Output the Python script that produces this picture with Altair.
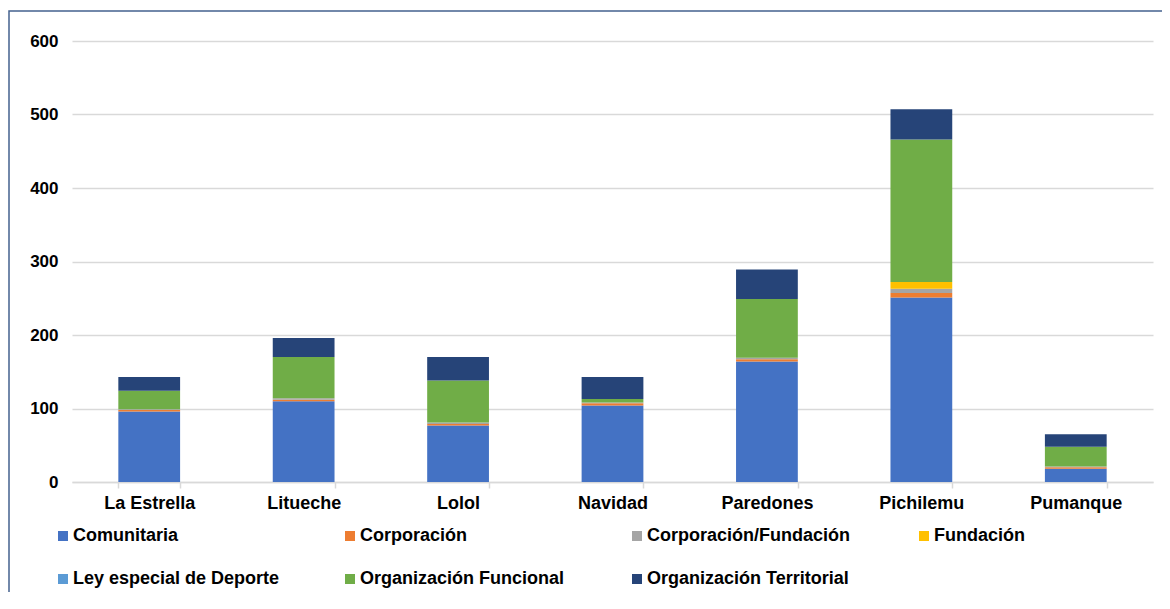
import altair as alt
import pandas as pd

categories = ["La Estrella", "Litueche", "Lolol", "Navidad", "Paredones", "Pichilemu", "Pumanque"]
series = ["Comunitaria", "Corporación", "Corporación/Fundación", "Fundación",
          "Ley especial de Deporte", "Organización Funcional", "Organización Territorial"]
colors = ["#4472C4", "#ED7D31", "#A5A5A5", "#FFC000", "#5B9BD5", "#70AD47", "#264478"]

comunitaria = [96, 110, 77, 104, 164, 251, 18]
corporacion = [2, 2, 2, 3, 3, 6, 2]
corp_fundacion = [1, 2, 2, 1, 2, 6, 1]
fundacion = [0, 0, 0, 0, 0, 9, 0]
ley_deporte = [0, 0, 0, 0, 0, 0, 0]
funcional = [25, 56, 57, 5, 80, 194, 27]
territorial = [19, 26, 32, 30, 40, 41, 17]

values = [comunitaria, corporacion, corp_fundacion, fundacion, ley_deporte, funcional, territorial]
rows = []
for si, (name, vals) in enumerate(zip(series, values)):
    for c, v in zip(categories, vals):
        rows.append({"Comuna": c, "Tipo": name, "Valor": v, "orden": si})
df = pd.DataFrame(rows)

FONT = "Liberation Sans"

bars = alt.Chart(df).mark_bar().encode(
    x=alt.X("Comuna:N", sort=categories,
            scale=alt.Scale(paddingInner=0.6, paddingOuter=0.3),
            axis=alt.Axis(title=None, labelAngle=0, labelFont=FONT, labelFontSize=18,
                          labelFontWeight="bold", labelColor="#000000", labelPadding=6,
                          tickBand="extent", tickSize=6, tickColor="#d9d9d9", tickWidth=1.5,
                          domainColor="#d9d9d9", domainWidth=1.5, grid=False)),
    y=alt.Y("Valor:Q", stack="zero",
            scale=alt.Scale(domain=[0, 600]),
            axis=alt.Axis(title=None, values=[0, 100, 200, 300, 400, 500, 600],
                          labelFont=FONT, labelFontSize=17, labelFontWeight="bold",
                          labelColor="#000000", labelPadding=14, domain=False, ticks=False,
                          gridColor="#d9d9d9", gridWidth=1.5)),
    color=alt.Color("Tipo:N", scale=alt.Scale(domain=series, range=colors),
                    legend=alt.Legend(title=None, orient="none", legendX=-18, legendY=486,
                                      direction="horizontal", columns=4, gridAlign="all",
                                      columnPadding=61, rowPadding=25, symbolType="square",
                                      symbolSize=100, symbolStrokeWidth=0, labelFont=FONT,
                                      labelFontSize=18, labelFontWeight="bold",
                                      labelColor="#000000", labelOffset=1, labelLimit=400,
                                      padding=0)),
    order=alt.Order("orden:Q", sort="ascending"),
)

frame = alt.Chart(alt.Data(values=[{}])).mark_rect(
    fill=None, stroke="#44628F", strokeWidth=1.5
).encode(
    x=alt.value(-63), y=alt.value(-30), x2=alt.value(1200), y2=alt.value(700)
)

chart = alt.layer(bars, frame).properties(
    width=1081, height=441,
    autosize=alt.AutoSizeParams(type="none"),
    padding={"left": 64, "top": 33, "right": 9, "bottom": 110},
).configure_view(stroke=None)

chart.save("out.html", embed_options={"renderer": "svg", "actions": False})
